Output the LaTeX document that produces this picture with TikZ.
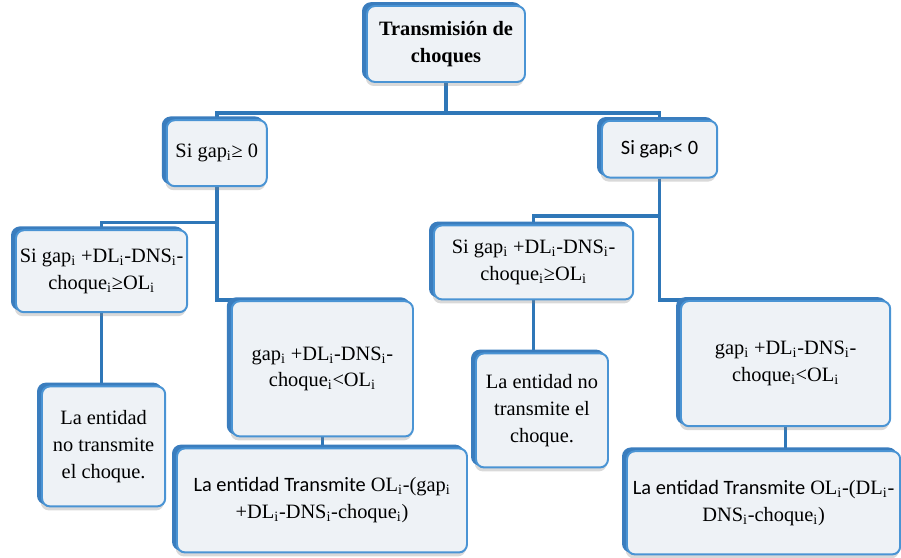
\documentclass[tikz,border=0pt]{standalone}
\usepackage{fontspec}
\setmainfont{Liberation Serif}
\newfontfamily\serfont{Liberation Serif}
\newfontfamily\calfont{Carlito}
\usetikzlibrary{shadows, backgrounds}
\definecolor{boxline}{HTML}{4A94D4}
\definecolor{boxfill}{HTML}{EEF2F6}
\definecolor{boxslab}{HTML}{3A7DBE}
\definecolor{edgeblue}{HTML}{2F77B8}
\newcommand{\sbi}{\textsubscript{i}}

\begin{document}
\begin{tikzpicture}

\tikzset{box/.style = {shape=rectangle, rounded corners=0.2cm, draw=boxline, line width=1.4pt, fill=boxfill, align=center, inner sep=2pt, font=\serfont\fontsize{14.5}{19}\selectfont,
  drop shadow={shadow xshift=-0.03cm, shadow yshift=-0.1cm, opacity=0.3},
  general shadow={shadow xshift=-0.1cm, shadow yshift=0.07cm, fill=boxslab, draw=boxslab}}}
\tikzset{edge/.style = {draw=edgeblue, line width=2.6pt}}
\useasboundingbox (0,0) rectangle (22.525,-13.95);
%boxes
\node[box, minimum width=3.95cm, minimum height=1.9cm] (root) at (11.15,-1.1) {\textbf{Transmisión de}\\\textbf{choques}};
\node[box, minimum width=2.5cm, minimum height=1.65cm] (si1) at (5.42,-3.83) {Si gap\sbi≥ 0};
\node[box, minimum width=2.88cm, minimum height=1.42cm] (si2) at (16.49,-3.73) {\calfont Si gap\sbi< 0};
\node[box, minimum width=4.28cm, minimum height=2.05cm] (c1) at (2.54,-6.78) {Si gap\sbi{} +DL\sbi-DNS\sbi-\\choque\sbi≥OL\sbi};
\node[box, minimum width=4.53cm, minimum height=3.38cm] (c2) at (8.06,-9.22) {gap\sbi{} +DL\sbi-DNS\sbi-\\choque\sbi<OL\sbi};
\node[box, minimum width=4.98cm, minimum height=1.85cm] (c3) at (13.34,-6.56) {Si gap\sbi{} +DL\sbi-DNS\sbi-\\choque\sbi≥OL\sbi};
\node[box, minimum width=5.23cm, minimum height=3.13cm] (c4) at (19.64,-9.09) {gap\sbi{} +DL\sbi-DNS\sbi-\\choque\sbi<OL\sbi};
\node[box, minimum width=3.08cm, minimum height=3.0cm] (n1) at (2.59,-11.16) {La entidad\\no transmite\\el choque.};
\node[box, minimum width=7.25cm, minimum height=2.6cm] (t1) at (8.05,-12.51) {{\calfont La entidad Transmite} OL\sbi-(gap\sbi\\+DL\sbi-DNS\sbi-choque\sbi)};
\node[box, minimum width=3.3cm, minimum height=2.85cm] (n2) at (13.55,-10.26) {La entidad no\\transmite el\\choque.};
\node[box, minimum width=6.83cm, minimum height=2.58cm] (t2) at (19.09,-12.57) {{\calfont La entidad Transmite} OL\sbi-(DL\sbi-\\DNS\sbi-choque\sbi)};
%edges
\begin{scope}[on background layer]
\draw[edge] (root.south) -- ++(0,-0.75) -| (si1.north);
\draw[edge] (root.south) -- ++(0,-0.75) -| (si2.north);
\draw[edge] (si1.south) -- ++(0,-0.88) -| (c1.north);
\draw[edge] (si1.south) |- (c2.north);
\draw[edge] (si2.south) -- ++(0,-0.93) -| (c3.north);
\draw[edge] (si2.south) |- (c4.north);
\draw[edge] (c1.south) |- (n1.north);
\draw[edge] (c2.south) |- (t1.north);
\draw[edge] (c3.south) |- (n2.north);
\draw[edge] (c4.south) |- (t2.north);
\end{scope}

\end{tikzpicture}
\end{document}
